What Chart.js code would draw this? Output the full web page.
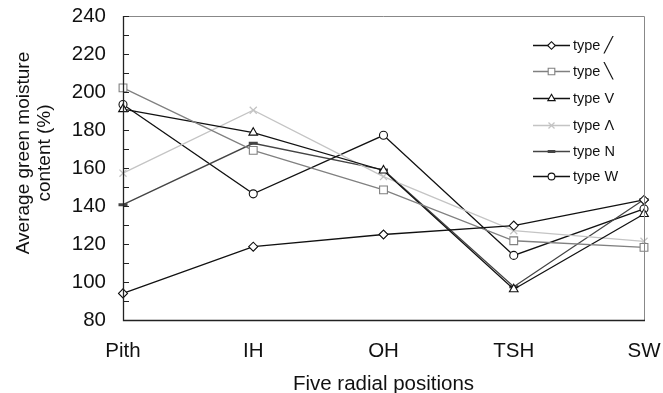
<!DOCTYPE html>
<html>
<head>
<meta charset="utf-8">
<script src="https://cdn.jsdelivr.net/npm/chart.js@4.4.1/dist/chart.umd.min.js"></script>
<style>
html,body{margin:0;padding:0;background:#fff;}
#wrap{width:663px;height:393px;}
</style>
</head>
<body>
<div id="wrap"><canvas id="c" width="663" height="393"></canvas></div>
<script>
// ---- data ----
const categories = ['Pith', 'IH', 'OH', 'TSH', 'SW'];
const seriesNames = ['type \u2571', 'type \u2572', 'type V', 'type \u039B', 'type N', 'type W'];
const typeSlash     = [94.0, 118.6, 125.0, 129.7, 143.2];
const typeBackslash = [202.2, 169.3, 148.5, 121.7, 118.2];
const typeV         = [191.0, 178.6, 158.7, 96.2, 135.8];
const typeLambda    = [157.3, 190.4, 155.5, 127.0, 121.4];
const typeN         = [140.7, 173.0, 159.0, 97.5, 143.4];
const typeW         = [193.4, 146.4, 177.2, 114.0, 138.5];
const yTicks = [80, 100, 120, 140, 160, 180, 200, 220, 240];
const xTitle = 'Five radial positions';
const yTitle = ['Average green moisture', 'content (%)'];

const FONT = "'Liberation Sans', Arial, sans-serif";

const styles = [
  {color:'#111111', pointStyle:'rectRot', radius:4.5, pbw:1.1},
  {color:'#808080', pointStyle:'rect', radius:5.5, pbw:1.1},
  {color:'#111111', pointStyle:'triangle', radius:5, pbw:1.1},
  {color:'#c4c4c4', pointStyle:'crossRot', radius:5, pbw:1.3},
  {color:'#444444', pointStyle:'line', radius:4.5, pbw:3},
  {color:'#111111', pointStyle:'circle', radius:4, pbw:1.1}
];
const seriesData = [typeSlash, typeBackslash, typeV, typeLambda, typeN, typeW];

const datasets = seriesData.map((d, i) => ({
  label: seriesNames[i],
  data: d,
  borderColor: styles[i].color,
  backgroundColor: '#ffffff',
  borderWidth: 1.3,
  pointStyle: styles[i].pointStyle,
  pointRadius: styles[i].radius,
  pointBorderWidth: styles[i].pbw,
  pointBorderColor: styles[i].color,
  pointBackgroundColor: '#ffffff',
  tension: 0,
  fill: false
}));

const framePlugin = {
  id: 'frame',
  afterDraw(chart) {
    const {ctx, chartArea: a, scales} = chart;
    ctx.save();
    ctx.strokeStyle = '#888888';
    ctx.lineWidth = 1;
    ctx.beginPath();
    ctx.moveTo(a.left, a.top + 0.5);
    ctx.lineTo(a.right + 0.5, a.top + 0.5);
    ctx.lineTo(a.right + 0.5, a.bottom);
    ctx.stroke();
    ctx.strokeStyle = '#222222';
    ctx.lineWidth = 1.3;
    ctx.beginPath();
    ctx.moveTo(a.left + 0.5, a.top);
    ctx.lineTo(a.left + 0.5, a.bottom + 0.5);
    ctx.lineTo(a.right + 1, a.bottom + 0.5);
    ctx.stroke();
    const y = scales.y;
    ctx.lineWidth = 1;
    ctx.beginPath();
    for (let v = yTicks[0]; v <= yTicks[yTicks.length - 1]; v += 10) {
      const py = Math.round(y.getPixelForValue(v)) + 0.5;
      ctx.moveTo(a.left, py);
      ctx.lineTo(a.left + 6, py);
    }
    ctx.stroke();

    // legend
    const x0 = 533, x1 = 570, tx = 573;
    const rowY = [45, 71, 98, 125, 151, 176];
    chart.data.datasets.forEach((ds, i) => {
      const yy = rowY[i] + 0.5;
      ctx.strokeStyle = ds.borderColor;
      ctx.lineWidth = 1.3;
      ctx.beginPath();
      ctx.moveTo(x0, yy);
      ctx.lineTo(x1, yy);
      ctx.stroke();
      ctx.fillStyle = '#ffffff';
      ctx.strokeStyle = ds.pointBorderColor;
      ctx.lineWidth = ds.pointBorderWidth;
      Chart.helpers.drawPoint(ctx, {pointStyle: ds.pointStyle, radius: ds.pointRadius * 0.85, borderWidth: ds.pointBorderWidth}, (x0 + x1) / 2, yy);
      ctx.fillStyle = '#111111';
      ctx.font = '14.5px ' + FONT;
      ctx.textBaseline = 'middle';
      ctx.textAlign = 'left';
      ctx.fillText(ds.label, tx, yy);
    });

    // axis titles
    ctx.fillStyle = '#111111';
    ctx.textAlign = 'center';
    ctx.textBaseline = 'alphabetic';
    ctx.font = '20.5px ' + FONT;
    ctx.fillText(xTitle, (a.left + a.right) / 2, 390);
    ctx.font = '19px ' + FONT;
    const cy = 153;
    const baseX = [29, 50];
    yTitle.forEach((t, i) => {
      ctx.save();
      ctx.translate(baseX[i], cy);
      ctx.rotate(-Math.PI / 2);
      ctx.fillText(t, 0, 0);
      ctx.restore();
    });
    ctx.restore();
  }
};

new Chart(document.getElementById('c'), {
  type: 'line',
  data: { labels: categories, datasets },
  options: {
    responsive: false,
    animation: false,
    layout: { padding: { top: 16, right: 19, left: 0, bottom: 0 } },
    plugins: { legend: { display: false }, tooltip: { enabled: false } },
    scales: {
      x: {
        type: 'category',
        offset: false,
        grid: { display: false, drawTicks: false },
        border: { display: false },
        ticks: { color: '#111111', font: { family: FONT, size: 20.5 }, padding: 19, maxRotation: 0, autoSkip: false },
        title: { display: false },
        afterFit(s) { s.height = 73; s.paddingLeft = 0; s.paddingRight = 0; }
      },
      y: {
        min: 80, max: 240,
        afterBuildTicks(s) { s.ticks = yTicks.map(v => ({ value: v })); },
        grid: { display: false, drawTicks: false },
        border: { display: false },
        ticks: { color: '#111111', font: { family: FONT, size: 20.5 }, padding: 17 },
        title: { display: false },
        afterFit(s) { s.width = 123; s.paddingTop = 0; s.paddingBottom = 0; }
      }
    }
  },
  plugins: [framePlugin]
});
</script>
</body>
</html>
